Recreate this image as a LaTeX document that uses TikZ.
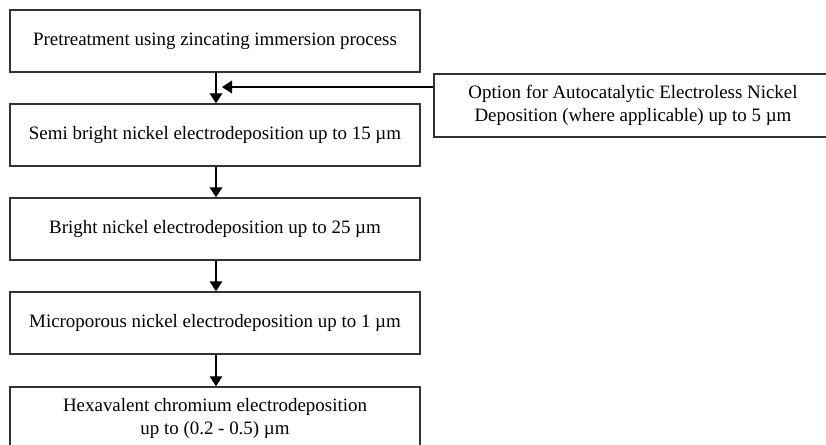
\documentclass[tikz,border=0pt]{standalone}
\usepackage{fontspec}
\setmainfont{Liberation Serif}
\usetikzlibrary{arrows.meta}

\tikzset{
  stepbox/.style={draw=black!80, line width=1.1pt, minimum width=307.5pt,
    minimum height=46.5pt, align=center, inner sep=0pt,
    font=\fontsize{14.2}{17.3}\selectfont},
  optbox/.style={stepbox, minimum width=298.5pt, minimum height=47pt},
  flow/.style={line width=1.1pt, -{Triangle[length=7.5pt, width=9.5pt]}}
}

\begin{document}
\begin{tikzpicture}[x=0.75pt, y=-0.75pt]
  \useasboundingbox (0,0) rectangle (826,445);

  % Main process chain
  \node[stepbox] (pre)  at (215,41)  {Pretreatment using zincating immersion process};
  \node[stepbox] (semi) at (215,135) {Semi bright nickel electrodeposition up to 15 µm};
  \node[stepbox] (brt)  at (215,229) {Bright nickel electrodeposition up to 25 µm};
  \node[stepbox] (micro) at (215,323) {Microporous nickel electrodeposition up to 1 µm};
  \node[stepbox] (hexa) at (215,418) {Hexavalent chromium electrodeposition\\up to (0.2 - 0.5) µm};

  % Optional step on the right
  \node[optbox] (opt) at (633,105.5) {Option for Autocatalytic Electroless Nickel\\Deposition (where applicable) up to 5 µm};

  % Arrows between steps
  \draw[flow] (pre.south -| 216,0) -- (semi.north -| 216,0);
  \draw[flow] (semi.south -| 216,0) -- (brt.north -| 216,0);
  \draw[flow] (brt.south -| 216,0) -- (micro.north -| 216,0);
  \draw[flow] (micro.south -| 216,0) -- (hexa.north -| 216,0);

  % Side entry
  \coordinate (join) at (222,87);
  \draw[flow] (opt.west |- join) -- (join);
\end{tikzpicture}
\end{document}
